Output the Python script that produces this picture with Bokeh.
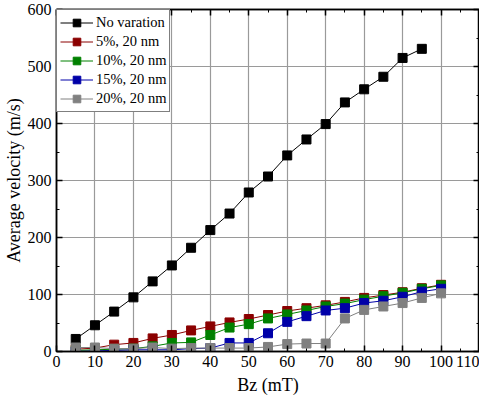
from bokeh.plotting import figure
from bokeh.models import LinearAxis, FixedTicker, Range1d, Legend, LegendItem
from bokeh.embed import file_html
from bokeh.resources import INLINE

bz_black = [5, 10, 15, 20, 25, 30, 35, 40, 45, 50, 55, 60, 65, 70, 75, 80, 85, 90, 95]
v_none = [22, 46, 70, 95, 123, 151, 182, 213, 242, 279, 307, 344, 372, 399, 437, 460, 482, 515, 531]

bz = [5, 10, 15, 20, 25, 30, 35, 40, 45, 50, 55, 60, 65, 70, 75, 80, 85, 90, 95, 100]
v_5 = [4, 6, 12, 15, 23, 29, 37, 44, 51, 57, 64, 71, 76, 81, 87, 94, 99, 104, 111, 117]
v_10 = [2, 3, 4, 5, 9, 15, 16, 29, 42, 48, 58, 65, 72, 79, 84, 91, 97, 103, 110, 116]
v_15 = [0, 1, 2, 3, 3, 3, 5, 6, 15, 15, 32, 52, 62, 72, 76, 85, 89, 96, 105, 110]
v_20 = [7, 7, 5, 5, 7, 5, 6, 6, 6, 6, 8, 13, 14, 14, 58, 73, 79, 85, 94, 102]

labels = ["No varation", "5%, 20 nm", "10%, 20 nm", "15%, 20 nm", "20%, 20 nm"]
colors = ["#000000", "#8b0000", "#008000", "#0000a8", "#808080"]

x_ticks = list(range(0, 111, 10))
y_ticks = list(range(0, 601, 100))

FONT = "Liberation Serif"

p = figure(width=479, height=397, output_backend="svg", toolbar_location=None,
           x_range=Range1d(0, 110), y_range=Range1d(0, 600),
           min_border_left=4, min_border_right=0, min_border_top=9, min_border_bottom=4,
           x_axis_label="Bz (mT)", y_axis_label="Average velocity (m/s)")
p.outline_line_color = "black"
p.outline_line_width = 1.5
p.background_fill_color = "white"
p.border_fill_color = "white"

def style_axis(ax, ticks, labels_on=True):
    step = ticks[1] - ticks[0]
    ax.ticker = FixedTicker(ticks=ticks, minor_ticks=[t + step / 2 for t in ticks[:-1]])
    ax.major_tick_in = 6
    ax.major_tick_out = 0
    ax.minor_tick_in = 3
    ax.minor_tick_out = 0
    ax.axis_line_color = "black"
    ax.axis_line_width = 1.5
    ax.major_tick_line_color = "black"
    ax.major_tick_line_width = 1.5
    ax.minor_tick_line_color = "black"
    ax.minor_tick_line_width = 1
    ax.major_label_text_font = FONT
    ax.major_label_text_font_size = "16px"
    ax.major_label_text_color = "black"
    ax.axis_label_text_font = FONT
    ax.axis_label_text_font_size = "18px"
    ax.axis_label_text_font_style = "normal"
    ax.axis_label_text_color = "black"
    ax.major_label_standoff = 4
    if not labels_on:
        ax.major_label_overrides = {t: "" for t in ticks}
        ax.major_label_standoff = 0

style_axis(p.xaxis[0], x_ticks)
style_axis(p.yaxis[0], y_ticks)
p.xaxis[0].axis_label_standoff = 5
p.yaxis[0].axis_label_standoff = 1
p.yaxis[0].major_label_standoff = 5

top = LinearAxis()
style_axis(top, x_ticks, labels_on=False)
p.add_layout(top, "above")
right = LinearAxis()
style_axis(right, y_ticks, labels_on=False)
p.add_layout(right, "right")

p.xgrid.ticker = FixedTicker(ticks=x_ticks[1:-1])
p.ygrid.ticker = FixedTicker(ticks=y_ticks[1:-1])
for g in (p.xgrid[0], p.ygrid[0]):
    g.grid_line_color = "#9a9a9a"
    g.grid_line_width = 1.2

series = [(bz_black, v_none), (bz, v_5), (bz, v_10), (bz, v_15), (bz, v_20)]
items = []
for (xs, ys), lab, col in zip(series, labels, colors):
    l = p.line(xs, ys, line_color=col, line_width=1)
    s = p.scatter(xs, ys, marker="square", size=9, fill_color=col, line_color=col)
    items.append(LegendItem(label=lab, renderers=[l, s]))

legend = Legend(items=items, location="top_left")
legend.label_text_font = FONT
legend.label_text_font_size = "14.5px"
legend.label_text_color = "black"
legend.border_line_color = "black"
legend.border_line_width = 1.5
legend.margin = 0
legend.padding = 3
legend.spacing = 0
legend.glyph_width = 33
legend.glyph_height = 19
legend.label_height = 19
legend.label_standoff = 3
legend.background_fill_alpha = 1
p.add_layout(legend, "center")

open("out.html", "w").write(file_html(p, INLINE))
